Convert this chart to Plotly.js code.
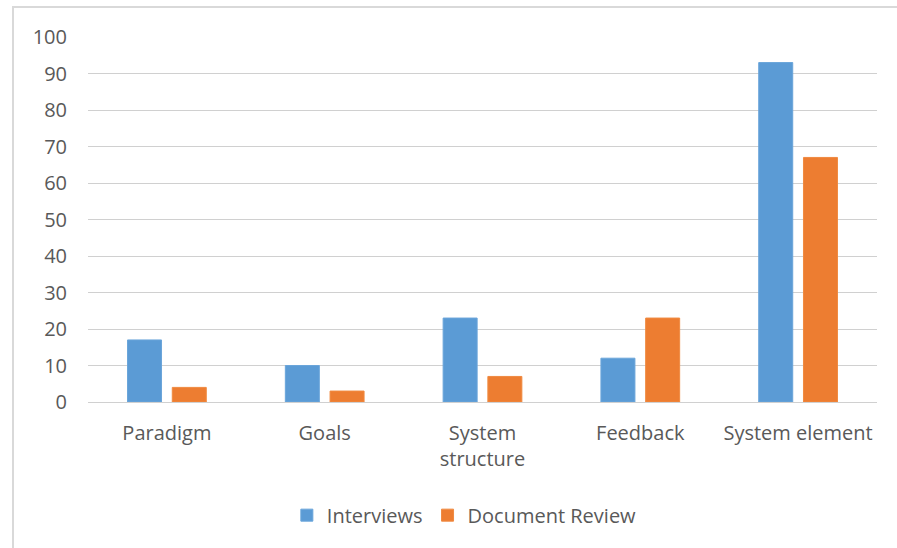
<!DOCTYPE html>
<html>
<head>
<meta charset="utf-8">
<script src="https://cdn.plot.ly/plotly-3.0.1.min.js"></script>
<style>
  html, body { margin: 0; padding: 0; background: #ffffff; }
  #frame { position: absolute; left: 12px; top: 6px; width: 885px; height: 542px;
           border-top: 2px solid #d9d9d9; border-left: 2px solid #d9d9d9; }
  #chart { position: absolute; left: 0; top: 0; width: 897px; height: 548px; }
</style>
</head>
<body>
<div id="frame"></div>
<div id="chart"></div>
<script>
const categories = ["Paradigm", "Goals", "System<br>structure", "Feedback", "System element"];
const interviews = [17, 10, 23, 12, 93];
const documentReview = [4, 3, 7, 23, 67];
const seriesNames = ["Interviews", "Document Review"];
const yTicks = [0, 10, 20, 30, 40, 50, 60, 70, 80, 90, 100];

const textColor = "#595959";
const fontFamily = "Open Sans, Noto Sans, sans-serif";

const data = [
  { type: "bar", name: seriesNames[0], x: categories, y: interviews,
    marker: { color: "#5B9BD5", line: { color: "#6AA5DA", width: 1 } } },
  { type: "bar", name: seriesNames[1], x: categories, y: documentReview,
    marker: { color: "#ED7D31", line: { color: "#F08A40", width: 1 } } }
];

const layout = {
  width: 897, height: 548,
  paper_bgcolor: "rgba(0,0,0,0)", plot_bgcolor: "rgba(0,0,0,0)",
  margin: { l: 88, r: 20, t: 37, b: 146 },
  barmode: "group", bargap: 0.433, bargroupgap: 0.24,
  font: { family: fontFamily, size: 20, color: textColor },
  xaxis: { type: "category", showgrid: false, zeroline: false, showline: false,
           ticks: "", ticklabelstandoff: 17, tickfont: { size: 20, color: textColor } },
  yaxis: { range: [0, 100], tickvals: yTicks, showgrid: true, gridcolor: "#d0d0d0", gridwidth: 1,
           zeroline: true, zerolinecolor: "#d0d0d0", zerolinewidth: 1, showline: false,
           ticks: "", ticklabelstandoff: 20, tickfont: { size: 20, color: textColor } },
  showlegend: true,
  legend: { orientation: "h", x: 0.477, xanchor: "center", y: -0.31, yanchor: "middle",
            font: { size: 20, color: textColor }, itemwidth: 30, traceorder: "normal" }
};

Plotly.newPlot("chart", data, layout, { displayModeBar: false, staticPlot: true });
</script>
</body>
</html>
